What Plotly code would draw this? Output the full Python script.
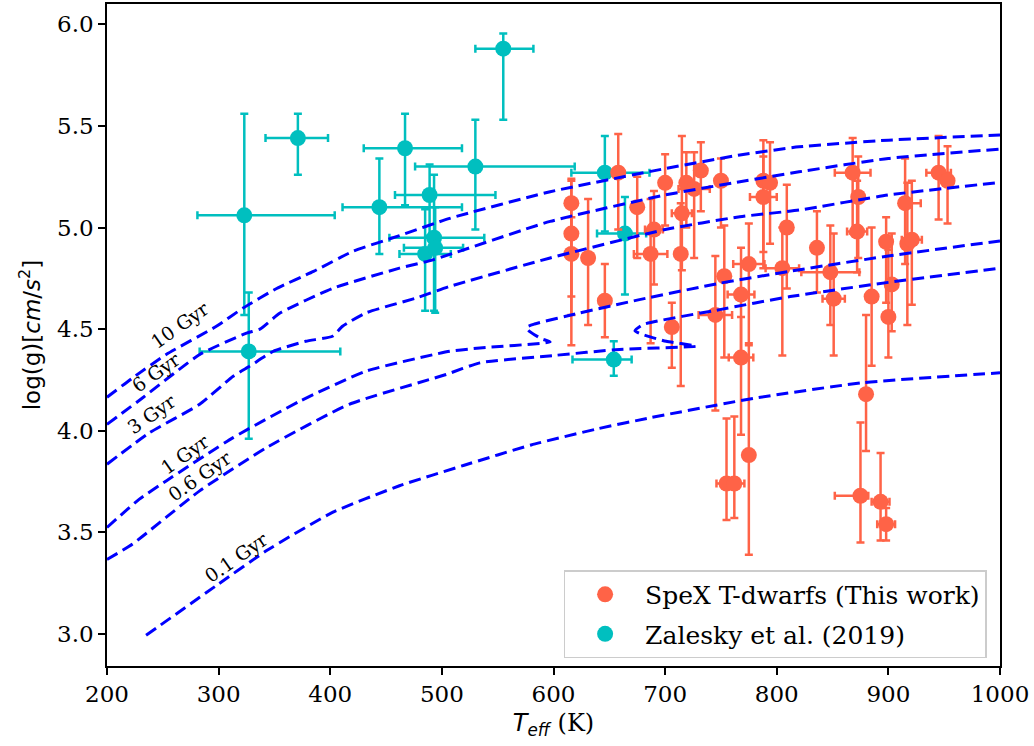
import plotly.graph_objects as go

# ---------------- data ----------------
# SpeX T-dwarfs (This work)
spex_teff = [616, 616, 616, 631, 646, 658, 675, 687, 690, 700, 706, 714, 715, 719, 726, 732, 745, 750, 753,
             755, 762, 768, 768, 775, 775, 788, 788, 794, 805, 809, 836, 848, 851, 868, 873, 872, 875, 880,
             885, 893, 898, 898, 900, 903, 915, 917, 921, 945, 953]
spex_logg = [5.12, 4.97, 4.87, 4.85, 4.64, 5.27, 5.10, 4.87, 4.99, 5.22, 4.51, 4.87, 5.07, 5.22, 5.19, 5.28,
             4.57, 5.23, 4.76, 3.74, 3.74, 4.67, 4.36, 4.82, 3.88, 5.23, 5.15, 5.22, 4.80, 5.00, 4.90, 4.78,
             4.65, 5.27, 5.15, 4.98, 3.68, 4.18, 4.66, 3.65, 4.93, 3.54, 4.56, 4.72, 5.12, 4.92, 4.94, 5.27, 5.23]
spex_teff_lo = [0, 0, 0, 0, 0, 0, 0, 15, 8, 0, 0, 0, 9, 0, 14, 0, 15, 0, 0,
                9, 9, 12, 11, 14, 0, 0, 12, 0, 15, 0, 0, 26, 10, 16, 0, 9, 23, 0,
                0, 8, 0, 8, 0, 0, 0, 0, 9, 11, 0]
spex_teff_hi = [0, 0, 0, 0, 0, 0, 0, 15, 8, 0, 0, 0, 9, 0, 14, 0, 15, 0, 0,
                9, 9, 12, 11, 14, 0, 0, 12, 0, 15, 0, 0, 26, 10, 16, 0, 9, 7, 0,
                0, 8, 0, 8, 0, 0, 14, 0, 9, 11, 0]
spex_logg_lo = [0.46, 0.40, 0.45, 0.33, 0.18, 0.28, 0.25, 0.44, 0.27, 0.21, 0.20, 0.65, 0.28, 0.22, 0.34, 0.20,
                0.47, 0.23, 0.40, 0.18, 0.17, 0.30, 0.38, 0.40, 0.49, 0.35, 0.35, 0.30, 0.43, 0.30, 0.22, 0.26,
                0.28, 0.30, 0.30, 0.20, 0.23, 0.28, 0.34, 0.19, 0.30, 0.08, 0.20, 0.23, 0.30, 0.40, 0.32, 0.23, 0.21]
spex_logg_hi = [0.12, 0.26, 0.18, 0.29, 0.18, 0.19, 0.15, 0.27, 0.19, 0.14, 0.12, 0.25, 0.38, 0.15, 0.18, 0.14,
                0.29, 0.11, 0.25, 0.32, 0.33, 0.23, 0.20, 0.20, 0.55, 0.20, 0.20, 0.20, 0.20, 0.21, 0.18, 0.23,
                0.32, 0.17, 0.20, 0.25, 0.36, 0.39, 0.34, 0.24, 0.12, 0.08, 0.33, 0.25, 0.22, 0.30, 0.29, 0.18, 0.17]

# Zalesky et al. (2019)
zal_teff = [323, 327, 371, 444, 467, 489, 485, 493, 494, 530, 555, 646, 664, 654]
zal_logg = [5.06, 4.39, 5.44, 5.10, 5.39, 5.16, 4.87, 4.95, 4.90, 5.30, 5.88, 5.27, 4.97, 4.35]
zal_teff_lo = [42, 44, 29, 33, 37, 31, 23, 40, 28, 54, 25, 30, 25, 37]
zal_teff_hi = [81, 82, 27, 74, 51, 59, 23, 45, 25, 89, 27, 40, 19, 16]
zal_logg_lo = [0.49, 0.43, 0.18, 0.23, 0.28, 0.20, 0.28, 0.36, 0.32, 0.31, 0.35, 0.29, 0.30, 0.08]
zal_logg_hi = [0.50, 0.29, 0.12, 0.24, 0.17, 0.15, 0.22, 0.31, 0.20, 0.23, 0.075, 0.18, 0.18, 0.09]

# Isochrones (Teff, logg)
iso_10_t = [200, 223, 253, 298, 322, 352, 385, 420, 462, 507, 597, 700, 767, 820, 900, 1000]
iso_10_g = [4.165, 4.26, 4.375, 4.514, 4.604, 4.70, 4.784, 4.882, 4.96, 5.045, 5.176, 5.29, 5.357, 5.397, 5.43, 5.455]
iso_6_t = [200, 232, 283, 325, 337, 355, 402, 462, 492, 597, 700, 767, 820, 900, 1000]
iso_6_g = [4.031, 4.162, 4.375, 4.48, 4.50, 4.579, 4.70, 4.80, 4.841, 5.03, 5.16, 5.225, 5.274, 5.34, 5.386]
iso_3_t = [200, 238, 283, 313, 328, 349, 378, 402, 411, 432, 477, 507, 597, 700, 767, 820, 900, 1000]
iso_3_g = [3.835, 3.99, 4.13, 4.268, 4.318, 4.391, 4.44, 4.465, 4.514, 4.58, 4.653, 4.71, 4.85, 4.99, 5.053,
           5.086, 5.16, 5.222]
iso_1_t = [200, 229, 253, 313, 373, 432, 507, 534, 597, 589, 578.5, 575.7, 583, 623, 677, 749, 811, 900, 1000]
iso_1_g = [3.524, 3.663, 3.753, 3.966, 4.146, 4.293, 4.391, 4.407, 4.437, 4.453, 4.489, 4.509, 4.525, 4.579,
           4.645, 4.726, 4.784, 4.86, 4.934]
iso_06_t = [200, 223, 283, 343, 417, 504, 534, 600, 659, 728, 701, 680, 673, 680, 749, 812, 900, 1000]
iso_06_g = [3.366, 3.443, 3.704, 3.917, 4.13, 4.277, 4.334, 4.37, 4.40, 4.416, 4.44, 4.473, 4.492, 4.522,
            4.596, 4.66, 4.73, 4.80]
iso_01_t = [235, 298, 343, 402, 462, 520, 580, 640, 687, 780, 877, 1000]
iso_01_g = [2.993, 3.238, 3.41, 3.598, 3.729, 3.83, 3.93, 4.01, 4.064, 4.16, 4.236, 4.285]

iso_labels = ["10 Gyr", "6 Gyr", "3 Gyr", "1 Gyr", "0.6 Gyr", "0.1 Gyr"]
iso_label_t = [265, 244, 240, 270, 283, 316]
iso_label_g = [4.52, 4.29, 4.08, 3.885, 3.775, 3.38]

# ---------------- figure ----------------
ORANGE = "#FF6347"
CYAN = "#00BFBF"
SERIF = "DejaVu Serif"

fig = go.Figure()

fig.add_trace(go.Scatter(
    x=zal_teff, y=zal_logg, mode="markers", name="Zalesky et al. (2019)",
    marker=dict(color=CYAN, size=16),
    error_x=dict(type="data", symmetric=False, array=zal_teff_hi, arrayminus=zal_teff_lo,
                 color=CYAN, thickness=2.5, width=4),
    error_y=dict(type="data", symmetric=False, array=zal_logg_hi, arrayminus=zal_logg_lo,
                 color=CYAN, thickness=2.5, width=4),
    legendrank=2, legendgroup="b",
))
fig.add_trace(go.Scatter(
    x=spex_teff, y=spex_logg, mode="markers", name="SpeX T-dwarfs (This work)",
    marker=dict(color=ORANGE, size=16),
    error_x=dict(type="data", symmetric=False, array=spex_teff_hi, arrayminus=spex_teff_lo,
                 color=ORANGE, thickness=2.5, width=4),
    error_y=dict(type="data", symmetric=False, array=spex_logg_hi, arrayminus=spex_logg_lo,
                 color=ORANGE, thickness=2.5, width=4),
    legendrank=1, legendgroup="a",
))

for t, g in [(iso_10_t, iso_10_g), (iso_6_t, iso_6_g), (iso_3_t, iso_3_g),
             (iso_1_t, iso_1_g), (iso_06_t, iso_06_g), (iso_01_t, iso_01_g)]:
    fig.add_trace(go.Scatter(x=t, y=g, mode="lines", showlegend=False, hoverinfo="skip",
                             line=dict(color="#0000FF", width=3, dash="12px,6px", shape="spline",
                                       smoothing=0.5)))

for lab, t, g in zip(iso_labels, iso_label_t, iso_label_g):
    fig.add_annotation(x=t, y=g, text=lab, showarrow=False, textangle=-35,
                       font=dict(family=SERIF, size=19, color="black"))

axis_common = dict(showline=True, linecolor="black", linewidth=1.6, mirror=True,
                   ticks="outside", ticklen=7, tickwidth=1.6, tickcolor="black",
                   showgrid=False, zeroline=False,
                   tickfont=dict(family=SERIF, size=23, color="black"))

fig.update_xaxes(range=[200, 1000], dtick=100, tick0=200, **axis_common,
                 title=dict(text="<i>T</i><sub><i>eff</i></sub><span style='font-family:DejaVu Serif'> (K)</span>",
                            font=dict(family="DejaVu Sans", size=24, color="black"), standoff=8))
fig.update_yaxes(range=[2.842, 6.10], dtick=0.5, tick0=3.0, tickformat=".1f", **axis_common,
                 title=dict(text="log(g)[<i>cm</i>/<i>s</i><sup>2</sup>]",
                            font=dict(family="DejaVu Sans", size=23, color="black"), standoff=10))

fig.update_layout(
    width=1034, height=746,
    margin=dict(l=107, r=34, t=2, b=80),
    plot_bgcolor="white", paper_bgcolor="white",
    legend=dict(x=0.985, y=0.012, xanchor="right", yanchor="bottom", traceorder="grouped",
                tracegroupgap=4,
                bgcolor="rgba(255,255,255,0.8)", bordercolor="#cccccc", borderwidth=1.5,
                font=dict(family=SERIF, size=25, color="black"), itemwidth=70),
)

fig.write_html("out.html")
